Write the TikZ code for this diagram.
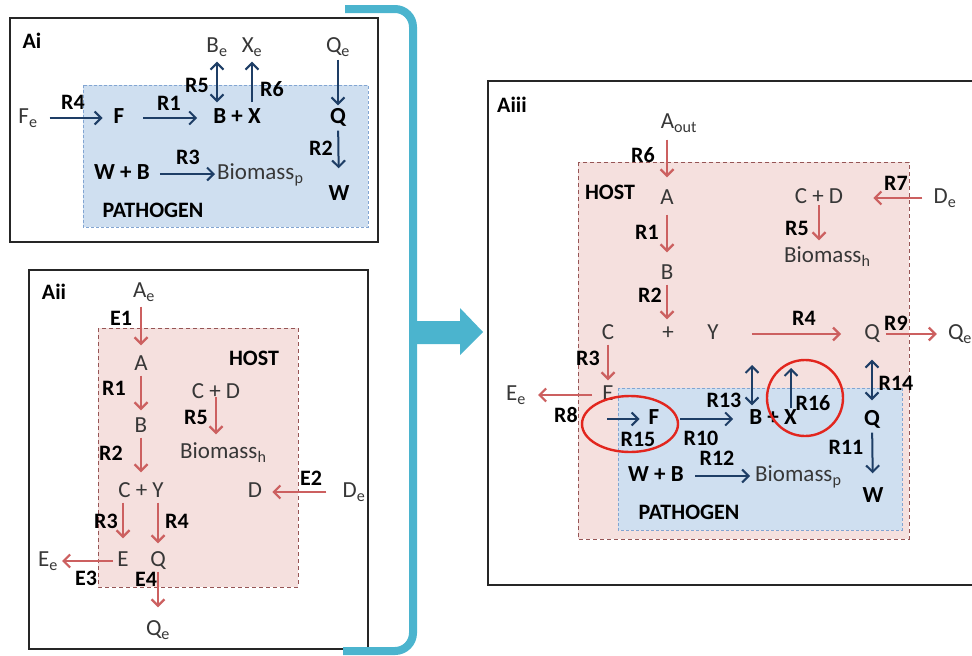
\documentclass[tikz,border=0pt]{standalone}
\usepackage{fontspec}
\setmainfont{Carlito}
\usepackage{xcolor}
\usetikzlibrary{arrows.meta}
\definecolor{navy}{RGB}{30,62,102}
\definecolor{rose}{RGB}{204,96,96}
\definecolor{hostfill}{RGB}{245,224,222}
\definecolor{hostline}{RGB}{150,85,85}
\definecolor{pathfill}{RGB}{207,223,240}
\definecolor{pathline}{RGB}{130,165,210}
\definecolor{ringred}{RGB}{226,38,30}
\definecolor{cyanb}{RGB}{75,180,206}
\definecolor{txt}{RGB}{55,55,55}

\begin{document}
\begin{tikzpicture}[x=1pt, y=-1pt,
  every node/.style={font=\fontsize{23}{27}\selectfont, inner sep=1pt, text height=15pt, text depth=4pt},
  sp/.style={text=txt},
  bsp/.style={font=\fontsize{23}{27}\selectfont\bfseries},
  lab/.style={font=\fontsize{22}{27}\selectfont\bfseries, text height=14pt, text depth=0pt},
  >={Straight Barb[length=6.5pt,width=13pt]},
  narr/.style={->, navy, line width=2pt},
  rarr/.style={->, rose, line width=2.2pt},
  panel/.style={draw=black!85, line width=1.8pt},
  hostbox/.style={fill=hostfill, draw=hostline, line width=1pt, dash pattern=on 4pt off 3pt},
  pathbox/.style={fill=pathfill, draw=pathline, line width=1pt, dash pattern=on 3pt off 2pt},
  hl/.style={draw=ringred, line width=2.4pt}]
\useasboundingbox (0,0) rectangle (972,656);

% panel frames
\draw[panel] (10,18) rectangle (378,242);
\draw[pathbox] (83,85) rectangle (368,227);
\draw[panel] (29,270) rectangle (368,649);
\draw[hostbox] (98,328) rectangle (298,587);
\draw[panel] (980,81) -- (488,81) -- (488,585) -- (980,585);
\draw[hostbox] (578,162) rectangle (909,539);
\draw[pathbox] (618,388) rectangle (902,530);

% bracket and big arrow
\draw[cyanb, line width=8pt, rounded corners=18pt] (345,9) -- (413,9) -- (413,651) -- (343,651);
\fill[cyanb] (413,321) -- (460,321) -- (460,308) -- (483,332) -- (460,355) -- (460,344) -- (413,344) -- cycle;

% ---- Ai: pathogen alone
\node[lab] (iTag) at (32,41) {Ai};
\node[sp] (iBe) at (217,47) {B\textsubscript{e}};
\node[sp] (iXe) at (252,47) {X\textsubscript{e}};
\node[sp] (iQe) at (338,47) {Q\textsubscript{e}};
\node[sp] (iFe) at (28,118) {F\textsubscript{e}};
\node[bsp] (iF) at (119,118) {F};
\node[bsp] (iBX) at (237,118) {B + X};
\node[bsp] (iQ) at (338,118) {Q};
\node[bsp] (iW) at (339,195) {W};
\node[bsp] (iWB) at (122,174) {W + B};
\node[sp, anchor=west] (iBioP) at (216,174) {Biomass\textsubscript{p}};
\node[lab] (iPath) at (153,210) {PATHOGEN};
\draw[narr, shorten <=11pt, shorten >=10pt] (iFe) -- (iF);
\draw[narr, shorten <=18pt, shorten >=15pt] (iF) -- (iBX);
\draw[narr, <->, shorten <=4pt, shorten >=5pt] (iBe) -- (iBe |- iBX.north);
\draw[narr, shorten <=5pt, shorten >=4pt] (iXe |- iBX.north) -- (iXe);
\draw[narr, shorten <=2pt, shorten >=2pt] (iQe) -- (iQ);
\draw[narr, shorten <=2pt, shorten >=16pt] (iQ) -- (iW);
\draw[narr, shorten <=9pt, shorten >=1pt] (iWB) -- (iBioP);
\node[lab] (iR4) at (73,102) {R4};
\node[lab] (iR1) at (169,103) {R1};
\node[lab] (iR5) at (197,85) {R5};
\node[lab] (iR6) at (272,89) {R6};
\node[lab] (iR2) at (321,148) {R2};
\node[lab] (iR3) at (188,157) {R3};

% ---- Aii: host alone
\node[lab] (iiTag) at (54,292) {Aii};
\node[sp] (iiAe) at (144,292) {A\textsubscript{e}};
\node[sp] (iiA) at (141,365) {A};
\node[sp] (iiB) at (141,427) {B};
\node[sp] (iiCD) at (216,393) {C + D};
\node[sp, anchor=west] (iiBioH) at (179,453) {Biomass\textsubscript{h}};
\node[sp] (iiCY) at (141,492) {C + Y};
\node[sp] (iiD) at (255,492) {D};
\node[sp] (iiDe) at (354,492) {D\textsubscript{e}};
\node[sp] (iiE) at (123,561) {E};
\node[sp] (iiQ) at (158,561) {Q};
\node[sp] (iiEe) at (48,561) {E\textsubscript{e}};
\node[sp] (iiQe) at (158,630) {Q\textsubscript{e}};
\node[lab] (iiHost) at (254,358) {HOST};
\draw[rarr, shorten <=4pt, shorten >=9pt] (iiAe.south -| iiA) -- (iiA);
\draw[rarr, shorten >=6pt] (iiA) -- (iiB);
\draw[rarr, shorten >=9pt] (iiB) -- (iiB |- iiCY.north);
\draw[rarr, shorten <=4pt, shorten >=8pt] (iiCD.center) -- (iiCD |- iiBioH.north);
\draw[rarr, shorten <=15pt, shorten >=9pt] (iiDe) -- (iiD);
\draw[rarr, shorten >=12pt] (iiE |- iiCY.south) -- (iiE);
\draw[rarr, shorten >=7pt] (iiQ |- iiCY.south) -- (iiQ);
\draw[rarr, shorten <=3pt, shorten >=3pt] (iiE) -- (iiEe);
\draw[rarr, shorten >=12pt] (iiQ) -- (iiQ |- iiQe.north);
\node[lab] (iiE1) at (121,318) {E1};
\node[lab] (iiR1) at (114,388) {R1};
\node[lab] (iiR5) at (196,417) {R5};
\node[lab] (iiR2) at (111,453) {R2};
\node[lab] (iiE2) at (311,478) {E2};
\node[lab] (iiR3) at (106,521) {R3};
\node[lab] (iiR4) at (177,521) {R4};
\node[lab] (iiE3) at (86,578) {E3};
\node[lab] (iiE4) at (146,579) {E4};

% ---- Aiii: host with pathogen inside
\node[lab] (iiiTag) at (512,105) {Aiii};
\node[sp] (iiiAout) at (679,123) {A\textsubscript{out}};
\node[sp] (iiiA) at (667,199) {A};
\node[sp] (iiiB) at (667,274) {B};
\node[sp] (iiiCD) at (819,198) {C + D};
\node[sp] (iiiDe) at (945,198) {D\textsubscript{e}};
\node[sp, anchor=west] (iiiBioH) at (783,257) {Biomass\textsubscript{h}};
\node[sp] (iiiC) at (608,334) {C};
\node[sp] (iiiPlus) at (668,334) {+};
\node[sp] (iiiY) at (713,334) {Y};
\node[sp] (iiiQ) at (872,334) {Q};
\node[sp] (iiiQe) at (960,334) {Q\textsubscript{e}};
\node[sp] (iiiE) at (608,395) {E};
\node[sp] (iiiEe) at (516,395) {E\textsubscript{e}};
\node[lab] (iiiHost) at (610,192) {HOST};
\node[bsp] (iiiF) at (654,419) {F};
\node[bsp] (iiiBX) at (773,419) {B + X};
\node[bsp] (iiiQp) at (872,420) {Q};
\node[bsp] (iiiW) at (873,497) {W};
\node[bsp] (iiiWB) at (656,476) {W + B};
\node[sp, anchor=west] (iiiBioP) at (754,476) {Biomass\textsubscript{p}};
\node[lab] (iiiPath) at (689,512) {PATHOGEN};
\coordinate (iiiHostB) at (752,365);
\coordinate (iiiHostX) at (791,368);
\coordinate (iiiFin) at (607,419);
% host reactions
\draw[rarr, shorten <=6pt, shorten >=11pt] (iiiAout.south -| iiiA) -- (iiiA);
\draw[rarr, shorten <=5pt, shorten >=11pt] (iiiA) -- (iiiB);
\draw[rarr, shorten >=4pt] (iiiB) -- (iiiB |- iiiPlus.north);
\draw[rarr, shorten >=4pt] (iiiC) -- (iiiE);
\draw[rarr, shorten <=32pt, shorten >=22pt] (iiiY) -- (iiiQ);
\draw[rarr, shorten <=5pt, shorten >=10pt] (iiiQ) -- (iiiQe);
\draw[rarr, shorten <=10pt, shorten >=29pt] (iiiDe) -- (iiiCD);
\draw[rarr, shorten <=7pt, shorten >=6pt] (iiiCD.center) -- (iiiCD |- iiiBioH.north);
\draw[rarr, shorten <=9pt, shorten >=11pt] (iiiE) -- (iiiEe);
% pathogen reactions
\draw[narr, <->, shorten >=3pt] (iiiHostB) -- (iiiHostB |- iiiBX.north);
\draw[narr] (iiiHostX |- iiiBX.north) -- (iiiHostX);
\draw[narr, <->, shorten <=15pt, shorten >=9pt] (iiiQ) -- (iiiQp);
\draw[narr, shorten >=8pt] (iiiFin) -- (iiiF);
\draw[narr, shorten <=20pt, shorten >=15pt] (iiiF) -- (iiiBX);
\draw[narr, shorten <=2pt, shorten >=13pt] (iiiQp) -- (iiiW);
\draw[narr, shorten <=10pt, shorten >=4pt] (iiiWB) -- (iiiBioP);
% highlighted new reactions
\draw[hl] (630,424) ellipse [x radius=48pt, y radius=28pt];
\draw[hl] (805,398) circle [radius=38pt];
\node[lab] (iiiR6) at (643,155) {R6};
\node[lab] (iiiR1) at (647,232) {R1};
\node[lab] (iiiR7) at (896,183) {R7};
\node[lab] (iiiR5) at (797,228) {R5};
\node[lab] (iiiR2) at (650,295) {R2};
\node[lab] (iiiR4) at (804,318) {R4};
\node[lab] (iiiR9) at (896,323) {R9};
\node[lab] (iiiR3) at (588,358) {R3};
\node[lab] (iiiR8) at (566,415) {R8};
\node[lab] (iiiR13) at (724,400) {R13};
\node[lab] (iiiR16) at (813,403) {R16};
\node[lab] (iiiR14) at (896,383) {R14};
\node[lab] (iiiR15) at (638,439) {R15};
\node[lab] (iiiR10) at (701,438) {R10};
\node[lab] (iiiR11) at (846,447) {R11};
\node[lab] (iiiR12) at (717,458) {R12};
\end{tikzpicture}
\end{document}
